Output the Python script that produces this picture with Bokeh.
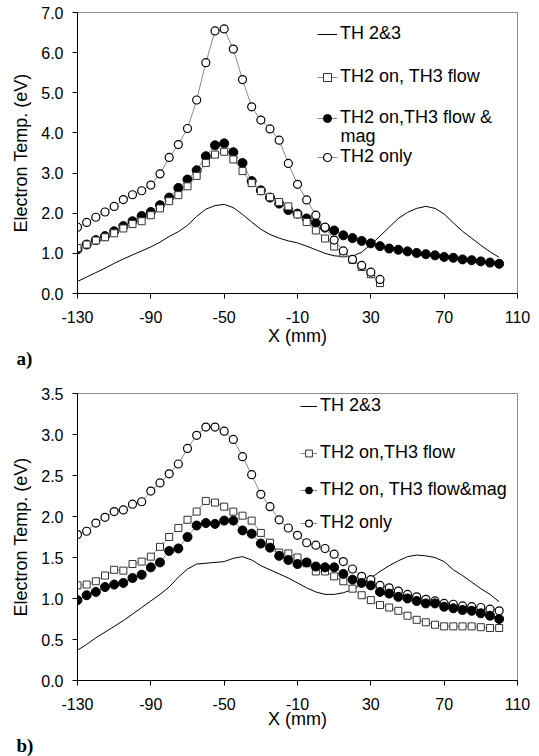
from bokeh.plotting import figure
from bokeh.models import Range1d, FixedTicker, PrintfTickFormatter, Legend, LegendItem, Label, Title
from bokeh.layouts import column
from bokeh.embed import file_html
from bokeh.resources import INLINE

# ---------------- data: chart a) ----------------
x_a_long = [-130, -125, -120, -115, -110, -105, -100, -95, -90, -85, -80, -75, -70, -65, -60, -55,
            -50, -45, -40, -35, -30, -25, -20, -15, -10, -5, 0, 5, 10, 15, 20, 25, 30, 35, 40, 45,
            50, 55, 60, 65, 70, 75, 80, 85, 90, 95, 100]
x_a_short = [-130, -125, -120, -115, -110, -105, -100, -95, -90, -85, -80, -75, -70, -65, -60, -55,
             -50, -45, -40, -35, -30, -25, -20, -15, -10, -5, 0, 5, 10, 15, 20, 25, 30, 35]
a_th23 = [0.30, 0.41, 0.52, 0.63, 0.75, 0.86, 0.96, 1.06, 1.16, 1.28, 1.42, 1.54, 1.70, 1.92, 2.10, 2.19,
          2.22, 2.14, 1.97, 1.78, 1.60, 1.47, 1.38, 1.31, 1.26, 1.18, 1.09, 1.00, 0.94, 0.92, 0.93, 1.03,
          1.22, 1.43, 1.65, 1.87, 2.02, 2.12, 2.17, 2.12, 1.98, 1.76, 1.55, 1.38, 1.20, 1.04, 0.90]
a_flow = [1.13, 1.22, 1.32, 1.40, 1.50, 1.62, 1.73, 1.80, 1.95, 2.12, 2.30, 2.45, 2.67, 2.93, 3.25, 3.46,
          3.53, 3.34, 3.05, 2.75, 2.55, 2.40, 2.28, 2.17, 1.97, 1.78, 1.57, 1.37, 1.17, 1.00, 0.84, 0.66,
          0.48, 0.26]
a_flow_mag = [1.10, 1.22, 1.33, 1.43, 1.55, 1.68, 1.80, 1.93, 2.03, 2.20, 2.39, 2.63, 2.84, 3.07, 3.42, 3.69,
              3.74, 3.52, 3.25, 2.80, 2.57, 2.39, 2.24, 2.08, 1.99, 1.87, 1.76, 1.64, 1.57, 1.45, 1.38, 1.31,
              1.25, 1.18, 1.12, 1.09, 1.05, 1.01, 0.98, 0.95, 0.91, 0.89, 0.85, 0.83, 0.80, 0.77, 0.74]
a_th2_only = [1.65, 1.77, 1.90, 2.03, 2.17, 2.34, 2.46, 2.56, 2.70, 2.98, 3.39, 3.71, 4.11, 4.82, 5.75, 6.54,
              6.59, 6.09, 5.33, 4.65, 4.32, 4.10, 3.82, 3.24, 2.72, 2.33, 1.95, 1.65, 1.33, 1.06, 0.85, 0.70,
              0.53, 0.35]

# ---------------- data: chart b) ----------------
x_b = [-130, -125, -120, -115, -110, -105, -100, -95, -90, -85, -80, -75, -70, -65, -60, -55,
       -50, -45, -40, -35, -30, -25, -20, -15, -10, -5, 0, 5, 10, 15, 20, 25, 30, 35, 40, 45,
       50, 55, 60, 65, 70, 75, 80, 85, 90, 95, 100]
b_th23 = [0.37, 0.44, 0.52, 0.59, 0.66, 0.73, 0.81, 0.89, 0.97, 1.05, 1.14, 1.26, 1.36, 1.42, 1.43, 1.44,
          1.45, 1.49, 1.51, 1.47, 1.40, 1.35, 1.30, 1.25, 1.19, 1.13, 1.08, 1.05, 1.05, 1.07, 1.11, 1.17,
          1.25, 1.33, 1.40, 1.46, 1.51, 1.53, 1.52, 1.50, 1.45, 1.35, 1.28, 1.20, 1.12, 1.05, 0.96]
b_flow = [1.16, 1.17, 1.21, 1.28, 1.35, 1.34, 1.42, 1.45, 1.51, 1.63, 1.75, 1.86, 1.96, 2.06, 2.19, 2.17,
          2.12, 2.06, 2.01, 1.95, 1.80, 1.68, 1.56, 1.55, 1.50, 1.43, 1.33, 1.33, 1.27, 1.21, 1.12, 1.04,
          0.98, 0.92, 0.89, 0.85, 0.79, 0.74, 0.71, 0.68, 0.66, 0.66, 0.66, 0.66, 0.65, 0.64, 0.64]
b_flow_mag = [0.98, 1.04, 1.08, 1.14, 1.17, 1.19, 1.25, 1.29, 1.38, 1.44, 1.58, 1.61, 1.75, 1.89, 1.92, 1.91,
              1.95, 1.95, 1.83, 1.79, 1.67, 1.62, 1.52, 1.47, 1.42, 1.44, 1.39, 1.38, 1.38, 1.30, 1.23, 1.19,
              1.16, 1.08, 1.06, 1.02, 1.00, 0.97, 0.94, 0.94, 0.90, 0.88, 0.86, 0.85, 0.82, 0.79, 0.75]
b_th2_only = [1.78, 1.82, 1.92, 1.99, 2.06, 2.08, 2.15, 2.18, 2.31, 2.41, 2.52, 2.64, 2.83, 2.99, 3.09, 3.09,
              3.04, 2.94, 2.73, 2.51, 2.27, 2.12, 1.96, 1.86, 1.77, 1.68, 1.65, 1.61, 1.54, 1.45, 1.36, 1.27,
              1.23, 1.16, 1.13, 1.09, 1.05, 1.02, 0.99, 0.97, 0.94, 0.93, 0.91, 0.90, 0.89, 0.87, 0.85]

x_ticks = [-130, -90, -50, -10, 30, 70, 110]
a_y_ticks = [0, 1, 2, 3, 4, 5, 6, 7]
b_y_ticks = [0, 0.5, 1.0, 1.5, 2.0, 2.5, 3.0, 3.5]

labels_a = ["TH 2&3", "TH2 on, TH3 flow", "TH2 on,TH3 flow &", "TH2 only"]
labels_b = ["TH 2&3", "TH2 on,TH3 flow", "TH2 on, TH3 flow&mag", "TH2 only"]

FONT = "Liberation Sans"
GREY = "#8a8a8a"


def make_fig(height, y_max, y_ticks, top, bottom, right, x_std):
    p = figure(width=539, height=height, output_backend="svg", toolbar_location=None,
               x_range=Range1d(-130, 110), y_range=Range1d(0, y_max),
               min_border_left=77, min_border_right=right, min_border_top=top,
               min_border_bottom=bottom, background_fill_color="white",
               border_fill_color="white", outline_line_color=GREY, outline_line_width=1)
    p.xgrid.visible = False
    p.ygrid.visible = False
    p.xaxis.ticker = FixedTicker(ticks=x_ticks)
    p.xaxis.formatter = PrintfTickFormatter(format="%d")
    p.yaxis.ticker = FixedTicker(ticks=y_ticks)
    p.yaxis.formatter = PrintfTickFormatter(format="%.1f")
    for ax in (p.xaxis[0], p.yaxis[0]):
        ax.axis_line_color = "black"
        ax.axis_line_width = 1
        ax.major_tick_line_color = "black"
        ax.major_tick_out = 5
        ax.major_tick_in = 0
        ax.minor_tick_line_color = None
        ax.major_label_text_font = FONT
        ax.major_label_text_font_size = "16px"
        ax.major_label_text_color = "black"
        ax.axis_label_text_font = FONT
        ax.axis_label_text_font_size = "18px"
        ax.axis_label_text_font_style = "normal"
        ax.axis_label_text_color = "black"
    p.xaxis.major_label_standoff = 12
    p.yaxis.major_label_standoff = 9
    p.xaxis.axis_label = "X (mm)"
    p.xaxis.axis_label_standoff = x_std
    p.yaxis.axis_label = "Electron Temp. (eV)"
    p.yaxis.axis_label_standoff = 7
    return p


def add_item(p, label, renderers, vx, vy, gw):
    lg = Legend(items=[LegendItem(label=label, renderers=renderers)], location=(vx, vy),
                padding=0, margin=0, spacing=0, glyph_width=gw, glyph_height=20,
                label_height=20, label_standoff=3, border_line_color=None,
                background_fill_alpha=0, label_text_font=FONT, label_text_font_size="18px",
                label_text_color="black")
    p.add_layout(lg)


def add_tag(p, text, standoff):
    t = Title(text=text, align="left", offset=-61, standoff=standoff,
              text_font="Liberation Serif", text_font_style="bold",
              text_font_size="19px", text_color="black")
    p.add_layout(t, "below")


# ---------------- figure a) ----------------
pa = make_fig(372, 7, a_y_ticks, top=12, bottom=79, right=22, x_std=0)
ra_line = pa.line(x_a_long, a_th23, line_color="black", line_width=1)
ra_fm_l = pa.line(x_a_long, a_flow_mag, line_color=GREY, line_width=1)
ra_fm_s = pa.scatter(x_a_long, a_flow_mag, marker="circle", size=9, fill_color="black", line_color="black")
ra_f_l = pa.line(x_a_short, a_flow, line_color=GREY, line_width=1)
ra_f_s = pa.scatter(x_a_short, a_flow, marker="square", size=7, fill_color="white", line_color="#333333", line_width=1)
ra_o_l = pa.line(x_a_short, a_th2_only, line_color=GREY, line_width=1)
ra_o_s = pa.scatter(x_a_short, a_th2_only, marker="circle", size=8, fill_color="white", line_color="black", line_width=1.2)

add_item(pa, labels_a[0], [ra_line], 240, 249, 20)
add_item(pa, labels_a[1], [ra_f_l, ra_f_s], 240, 206, 20)
add_item(pa, labels_a[2], [ra_fm_l, ra_fm_s], 240, 165, 20)
add_item(pa, labels_a[3], [ra_o_l, ra_o_s], 240, 126, 20)
pa.add_layout(Label(x=263, y=158, x_units="screen", y_units="screen", text="mag",
                    text_font=FONT, text_font_size="18px", text_baseline="middle", text_color="black"))
add_tag(pa, "a)", -5)

# ---------------- figure b) ----------------
pb = make_fig(384, 3.5, b_y_ticks, top=21, bottom=76, right=20, x_std=-4)
rb_line = pb.line(x_b, b_th23, line_color="black", line_width=1)
rb_f_l = pb.line(x_b, b_flow, line_color=GREY, line_width=1)
rb_f_s = pb.scatter(x_b, b_flow, marker="square", size=7, fill_color="white", line_color="#333333", line_width=1)
rb_o_l = pb.line(x_b, b_th2_only, line_color=GREY, line_width=1)
rb_o_s = pb.scatter(x_b, b_th2_only, marker="circle", size=8, fill_color="white", line_color="black", line_width=1.2)
rb_fm_l = pb.line(x_b, b_flow_mag, line_color=GREY, line_width=1)
rb_fm_s = pb.scatter(x_b, b_flow_mag, marker="circle", size=9, fill_color="black", line_color="black")

add_item(pb, labels_b[0], [rb_line], 223, 264, 17)
add_item(pb, labels_b[1], [rb_f_l, rb_f_s], 223, 217, 17)
add_item(pb, labels_b[2], [rb_fm_l, rb_fm_s], 223, 180, 17)
add_item(pb, labels_b[3], [rb_o_l, rb_o_s], 223, 147, 17)
add_tag(pb, "b)", 2)

layout = column(pa, pb, spacing=0)
open("out.html", "w").write(file_html(layout, INLINE))
